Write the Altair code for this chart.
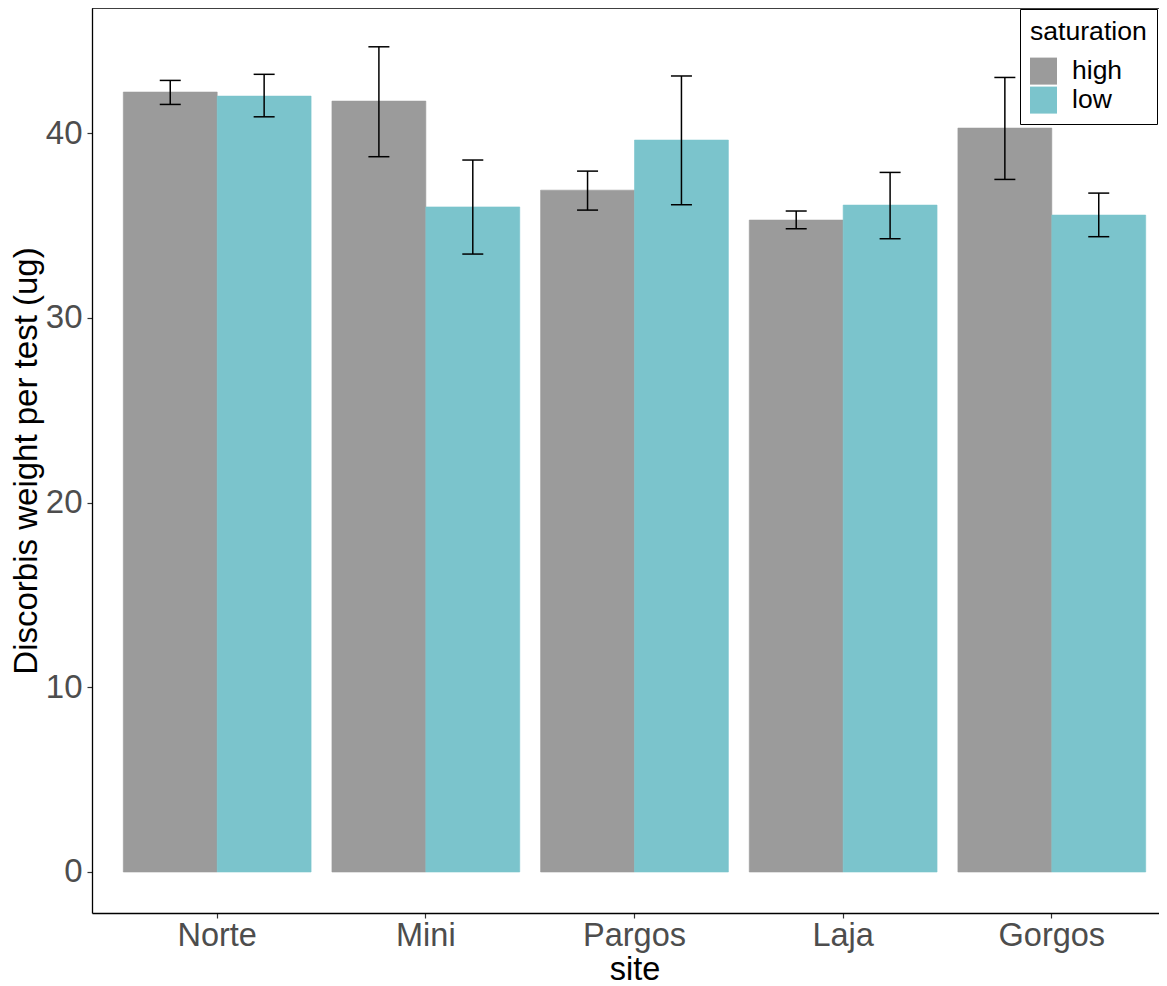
import altair as alt
import pandas as pd

sites = ["Norte", "Mini", "Pargos", "Laja", "Gorgos"]
saturations = ["high", "low"]
high_mean = [42.22, 41.73, 36.91, 35.29, 40.27]
high_lo = [41.55, 38.72, 35.83, 34.82, 37.49]
high_hi = [42.85, 44.67, 37.94, 35.78, 43.01]
low_mean = [42.00, 36.00, 39.62, 36.10, 35.56]
low_lo = [40.88, 33.45, 36.12, 34.28, 34.39]
low_hi = [43.18, 38.54, 43.09, 37.87, 36.75]

rows = []
for i, s in enumerate(sites):
    rows.append({"site": s, "saturation": "high", "mean": high_mean[i], "lo": high_lo[i], "hi": high_hi[i]})
    rows.append({"site": s, "saturation": "low", "mean": low_mean[i], "lo": low_lo[i], "hi": low_hi[i]})
df = pd.DataFrame(rows)

FONT = "Liberation Sans"
PANEL_W = 1085   # full panel width (right part falls outside the page, as in the reference)
VIEW_W = 1067
VIEW_H = 905
COLORS = ["#9B9B9B", "#7BC4CC"]

x_scale = alt.Scale(paddingInner=0.1, paddingOuter=0.15, range=[0, PANEL_W])
x_enc = alt.X("site:N", sort=sites, title="site", scale=x_scale,
              axis=alt.Axis(labelAngle=0, labelFontSize=32.5, labelColor="#4D4D4D",
                            titleFontSize=32.5, titleColor="black", titleFontWeight="normal",
                            labelPadding=1, titlePadding=2, tickSize=5, tickColor="#333333",
                            tickWidth=1.2, domain=True, domainColor="black", domainWidth=1.3,
                            labelFont=FONT, titleFont=FONT))
xo_enc = alt.XOffset("saturation:N", sort=saturations,
                     scale=alt.Scale(paddingInner=0, paddingOuter=0))
y_scale = alt.Scale(domain=[-2.22, 46.77], nice=False, zero=False)
color_scale = alt.Scale(domain=saturations, range=COLORS)

bars = alt.Chart(df).mark_bar(opacity=1, strokeWidth=0.6).encode(
    x=x_enc,
    xOffset=xo_enc,
    y=alt.Y("mean:Q", scale=y_scale, title="Discorbis weight per test (ug)",
            axis=alt.Axis(values=[0, 10, 20, 30, 40], labelFontSize=33, labelColor="#4D4D4D",
                          titleFontSize=33, titleColor="black", titleFontWeight="normal",
                          labelPadding=5, titlePadding=2, tickSize=5, tickColor="#333333",
                          tickWidth=1.2, domain=True, domainColor="black", domainWidth=1.3,
                          grid=False, labelFont=FONT, titleFont=FONT)),
    color=alt.Color("saturation:N", sort=saturations, scale=color_scale,
                    legend=alt.Legend(orient="none", legendX=928, legendY=1,
                                      title="saturation", titleFontSize=26.6,
                                      titleFontWeight="normal", titleColor="black",
                                      labelFontSize=26.5, labelColor="black",
                                      symbolType="square", symbolSize=729,
                                      symbolStrokeWidth=0, symbolOpacity=1,
                                      labelOffset=15, padding=10, titlePadding=12,
                                      rowPadding=2, strokeColor="black",
                                      labelFont=FONT, titleFont=FONT)),
    stroke=alt.Stroke("saturation:N", sort=saturations, scale=color_scale, legend=None),
)

rules = alt.Chart(df).mark_rule(color="black", strokeWidth=1.5).encode(
    x=alt.X("site:N", sort=sites),
    xOffset=xo_enc,
    y=alt.Y("lo:Q", scale=y_scale),
    y2="hi:Q",
)
caps_lo = alt.Chart(df).mark_tick(color="black", thickness=1.5, size=21, opacity=1).encode(
    x=alt.X("site:N", sort=sites),
    xOffset=xo_enc,
    y=alt.Y("lo:Q", scale=y_scale),
)
caps_hi = alt.Chart(df).mark_tick(color="black", thickness=1.5, size=21, opacity=1).encode(
    x=alt.X("site:N", sort=sites),
    xOffset=xo_enc,
    y=alt.Y("hi:Q", scale=y_scale),
)

# top border of the panel
top_border = alt.Chart(pd.DataFrame({"k": [0]})).mark_rule(color="black", strokeWidth=1.3).encode(
    x=alt.value(0), x2=alt.value(PANEL_W), y=alt.value(0)
)

chart = alt.layer(bars, rules, caps_lo, caps_hi, top_border).properties(
    width=VIEW_W, height=VIEW_H,
    autosize=alt.AutoSizeParams(type="none"),
    padding={"left": 84, "top": 0, "right": 0, "bottom": 82},
).configure(font=FONT).configure_view(stroke=None)

chart.save("out.html", embed_options={"renderer": "svg", "actions": False})
